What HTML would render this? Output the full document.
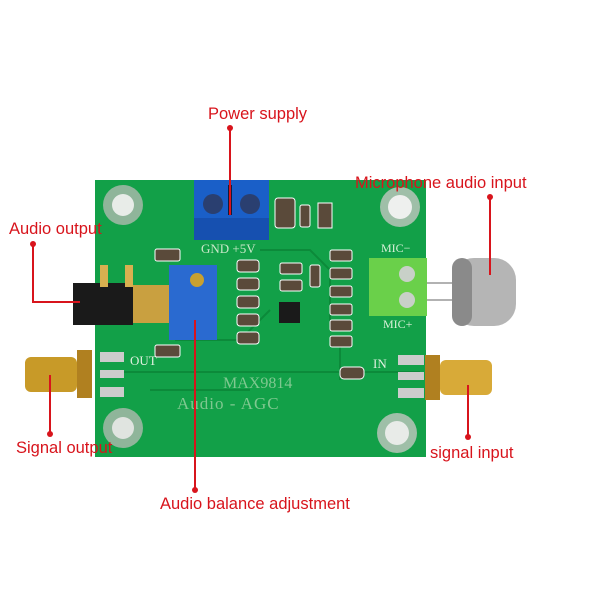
<!DOCTYPE html>
<html><head><meta charset="utf-8"><style>
html,body{margin:0;padding:0;background:#fff;width:600px;height:600px;overflow:hidden}
svg{display:block}
.s{font-family:"Liberation Sans",sans-serif}
.f{font-family:"Liberation Serif",serif}
</style></head><body>
<svg width="600" height="600" viewBox="0 0 600 600" xmlns="http://www.w3.org/2000/svg">
<rect width="600" height="600" fill="#fff"/>
<!-- PCB -->
<rect x="95" y="180" width="331" height="277" fill="#12a048"/>
<g fill="none" stroke="#0c8a3a" stroke-width="2">
<path d="M120 372 H420"/><path d="M260 250 L310 250 L330 270 L330 330"/><path d="M175 340 L240 340 L270 310"/><path d="M340 340 L340 380"/><path d="M150 390 L250 390"/>
</g>
<!-- holes -->
<g>
<circle cx="123" cy="205" r="20" fill="#8fb59a"/><circle cx="123" cy="205" r="11" fill="#e8ece8"/>
<circle cx="400" cy="207" r="20" fill="#9fbfa8"/><circle cx="400" cy="207" r="12" fill="#eef0ee"/>
<circle cx="123" cy="428" r="20" fill="#8fb59a"/><circle cx="123" cy="428" r="11" fill="#e0e4e0"/>
<circle cx="397" cy="433" r="20" fill="#9fbfa8"/><circle cx="397" cy="433" r="12" fill="#e8ebe8"/>
</g>
<!-- power terminal -->
<rect x="194" y="180" width="75" height="60" fill="#1a5fc8"/>
<rect x="194" y="218" width="75" height="22" fill="#1650b0"/>
<circle cx="213" cy="204" r="10" fill="#2a3f70"/><circle cx="250" cy="204" r="10" fill="#2a3f70"/>
<rect x="228" y="185" width="4" height="30" fill="#0c1d40"/>
<text x="201" y="253" class="f" font-size="13" fill="#c8e8c8">GND +5V</text>
<!-- smd parts -->
<g fill="#5a4a3a" stroke="#fff" stroke-width="1">
<rect x="275" y="198" width="20" height="30" rx="3"/><rect x="300" y="205" width="10" height="22" rx="2"/><rect x="318" y="203" width="14" height="25"/>
<rect x="237" y="260" width="22" height="12" rx="3"/><rect x="237" y="278" width="22" height="12" rx="3"/><rect x="237" y="296" width="22" height="12" rx="3"/><rect x="237" y="314" width="22" height="12" rx="3"/><rect x="237" y="332" width="22" height="12" rx="3"/>
<rect x="280" y="263" width="22" height="11" rx="2"/><rect x="280" y="280" width="22" height="11" rx="2"/><rect x="310" y="265" width="10" height="22" rx="2"/>
<rect x="330" y="250" width="22" height="11" rx="2"/><rect x="330" y="268" width="22" height="11" rx="2"/><rect x="330" y="286" width="22" height="11" rx="2"/><rect x="330" y="304" width="22" height="11" rx="2"/><rect x="330" y="320" width="22" height="11" rx="2"/><rect x="330" y="336" width="22" height="11" rx="2"/>
<rect x="155" y="249" width="25" height="12" rx="2"/><rect x="155" y="345" width="25" height="12" rx="2"/><rect x="340" y="367" width="24" height="12" rx="4"/>
</g>
<rect x="279" y="302" width="21" height="21" fill="#1a1a1a"/>
<!-- audio jack -->
<rect x="73" y="283" width="60" height="42" fill="#1a1a1a"/>
<rect x="133" y="285" width="40" height="38" fill="#c9a040"/>
<rect x="100" y="265" width="8" height="22" fill="#d8b050"/><rect x="125" y="265" width="8" height="22" fill="#d8b050"/>
<!-- pot -->
<rect x="169" y="265" width="48" height="75" fill="#2a6ad0"/>
<circle cx="197" cy="280" r="7" fill="#c8a030"/>
<!-- green terminal -->
<rect x="369" y="258" width="58" height="58" fill="#6ad04a"/>
<circle cx="407" cy="274" r="8" fill="#c8d0c8"/><circle cx="407" cy="300" r="8" fill="#c8d0c8"/>
<text x="381" y="252" class="f" font-size="12" fill="#d8f0d8">MIC−</text>
<text x="383" y="328" class="f" font-size="12" fill="#d8f0d8">MIC+</text>
<!-- mic -->
<line x1="427" y1="283" x2="455" y2="283" stroke="#999" stroke-width="1.5"/><line x1="427" y1="300" x2="455" y2="300" stroke="#999" stroke-width="1.5"/>
<rect x="452" y="258" width="64" height="68" rx="22" fill="#b5b5b5"/>
<rect x="452" y="258" width="20" height="68" rx="10" fill="#8a8a8a"/>
<!-- SMA -->
<rect x="25" y="357" width="52" height="35" rx="6" fill="#c89a28"/>
<rect x="77" y="350" width="15" height="48" fill="#b08020"/>
<rect x="100" y="352" width="24" height="10" fill="#ccc"/><rect x="100" y="370" width="24" height="8" fill="#ccc"/><rect x="100" y="387" width="24" height="10" fill="#ccc"/>
<rect x="440" y="360" width="52" height="35" rx="6" fill="#d8aa38"/>
<rect x="425" y="355" width="15" height="45" fill="#b08020"/>
<rect x="398" y="355" width="26" height="10" fill="#ccc"/><rect x="398" y="372" width="26" height="8" fill="#ccc"/><rect x="398" y="388" width="26" height="10" fill="#ccc"/>
<text x="130" y="365" class="f" font-size="13" fill="#e0f0e0">OUT</text>
<text x="373" y="368" class="f" font-size="13" fill="#e0f0e0">IN</text>
<text x="223" y="388" class="f" font-size="16" fill="#7fc890">MAX9814</text>
<text x="177" y="409" class="f" font-size="17" fill="#7fc890" letter-spacing="1">Audio  -  AGC</text>
<!-- callouts -->
<g stroke="#d8141c" stroke-width="2" fill="none">
<path d="M230 128 V215"/><path d="M33 244 V302 H80"/><path d="M490 197 V275"/><path d="M50 434 V375"/><path d="M468 437 V385"/><path d="M195 490 V320"/>
</g>
<g fill="#d8141c">
<circle cx="230" cy="128" r="3"/><circle cx="33" cy="244" r="3"/><circle cx="490" cy="197" r="3"/><circle cx="50" cy="434" r="3"/><circle cx="468" cy="437" r="3"/><circle cx="195" cy="490" r="3"/>
</g>
<g fill="#d8141c" font-size="16.5" class="s">
<text x="208" y="119" class="s">Power supply</text>
<text x="355" y="188" class="s">Microphone audio input</text>
<text x="9" y="234" class="s">Audio output</text>
<text x="16" y="453" class="s">Signal output</text>
<text x="430" y="458" class="s">signal input</text>
<text x="160" y="509" class="s">Audio balance adjustment</text>
</g>
</svg>
</body></html>
